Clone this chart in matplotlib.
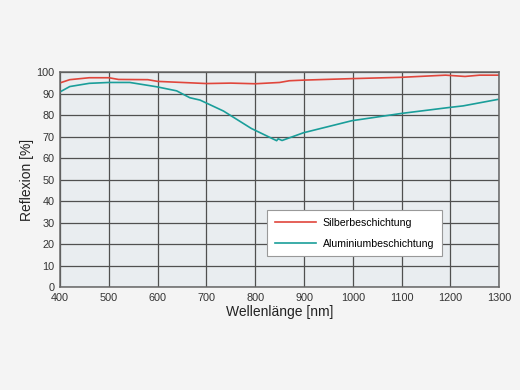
import matplotlib
matplotlib.use("Agg")
import matplotlib.pyplot as plt

plt.rcParams['font.family'] = ['Liberation Sans', 'DejaVu Sans']

silver_nm = [400, 420, 460, 500, 520, 580, 600, 650, 700, 750, 800, 850, 870, 900, 1000, 1100, 1190, 1230, 1260, 1300]
silver_r = [95.0, 96.5, 97.4, 97.4, 96.6, 96.5, 95.7, 95.2, 94.7, 94.9, 94.6, 95.2, 96.0, 96.3, 97.0, 97.6, 98.6, 98.0, 98.6, 98.6]

alu_nm = [400, 420, 460, 500, 543, 598, 639, 666, 687, 735, 792, 844, 847, 855, 899, 998, 1100, 1199, 1226, 1297]
alu_r = [90.8, 93.3, 94.8, 95.2, 95.2, 93.2, 91.3, 88.1, 87.0, 81.9, 73.8, 68.1, 69.0, 68.2, 71.8, 77.4, 80.8, 83.6, 84.3, 87.3]

xticks = list(range(400, 1301, 100))
yticks = list(range(0, 101, 10))

fig = plt.figure(figsize=(5.2, 3.9), dpi=100, facecolor='#f4f4f4')
ax = fig.add_axes([0.1154, 0.264, 0.8446, 0.551])
ax.set_facecolor('#e9edf0')

ax.plot(silver_nm, silver_r, color='#e0463c', lw=1.2, label='Silberbeschichtung')
ax.plot(alu_nm, alu_r, color='#1a9e9a', lw=1.2, label='Aluminiumbeschichtung')

ax.set_xlim(400, 1300)
ax.set_ylim(0, 100)
ax.set_xticks(xticks)
ax.set_yticks(yticks)
ax.grid(True, color='#505050', lw=0.9)
ax.set_axisbelow(True)
ax.tick_params(length=0, labelsize=7.8, colors='#333333', pad=4)
for s in ax.spines.values():
    s.set_color('#666666')
    s.set_linewidth(1.1)

ax.set_xlabel('Wellenlänge [nm]', fontsize=10, color='#222222', labelpad=2)
ax.set_ylabel('Reflexion [%]', fontsize=10, color='#222222', labelpad=2)

leg = ax.legend(loc='upper left', bbox_to_anchor=(0.4715, 0.358), fontsize=7.6,
                frameon=True, fancybox=False, edgecolor='#999999', facecolor='white',
                framealpha=1, handlelength=3.9, handletextpad=0.6, borderpad=0.75,
                labelspacing=1.0, borderaxespad=0)
leg.get_frame().set_linewidth(0.8)

fig.savefig('out.png', dpi=100, facecolor=fig.get_facecolor())
